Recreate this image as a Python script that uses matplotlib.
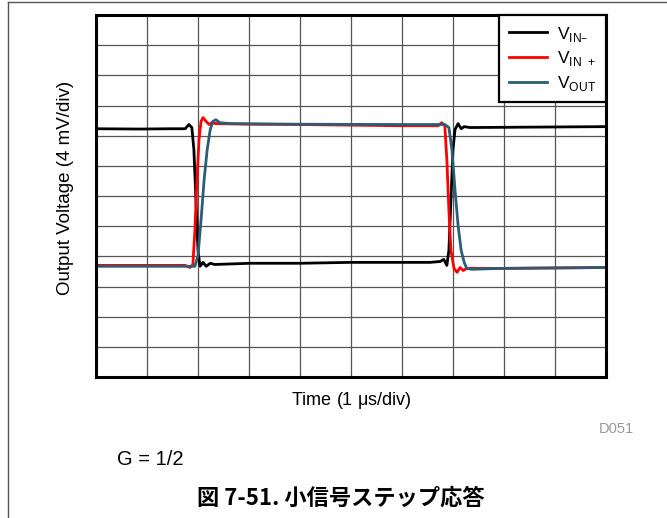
import matplotlib
matplotlib.use("Agg")
import matplotlib.pyplot as plt
from matplotlib.lines import Line2D

plt.rcParams['font.family'] = ['Liberation Sans', 'DejaVu Sans']

# time in us, level in divisions (4 mV/div)
t_vin_neg = [0.0, 0.86, 1.45, 1.75, 1.82, 1.88, 1.92, 1.96, 2.0, 2.04, 2.10, 2.16, 2.24, 2.33,
             3.02, 4.0, 4.98, 5.96, 6.55, 6.75, 6.82, 6.88, 6.92, 6.96, 7.0, 7.04, 7.10, 7.16,
             7.22, 7.33, 10.0]
v_vin_neg = [8.23, 8.22, 8.23, 8.23, 8.37, 8.27, 7.53, 5.87, 4.2, 3.67, 3.8, 3.67, 3.77, 3.73,
             3.77, 3.77, 3.8, 3.8, 3.8, 3.83, 3.9, 3.7, 4.2, 5.87, 7.53, 8.2, 8.4, 8.23,
             8.3, 8.27, 8.3]

t_vin_pos = [0.0, 1.06, 1.75, 1.84, 1.90, 1.94, 1.98, 2.02, 2.06, 2.10, 2.16, 2.22, 2.27, 2.35,
             3.02, 4.0, 4.98, 5.96, 6.71, 6.78, 6.84, 6.88, 6.92, 6.96, 7.02, 7.08, 7.14, 7.20,
             7.27, 7.92, 10.0]
v_vin_pos = [3.7, 3.7, 3.7, 3.63, 3.73, 4.87, 6.53, 7.87, 8.47, 8.6, 8.47, 8.37, 8.43, 8.4,
             8.38, 8.37, 8.35, 8.33, 8.33, 8.43, 8.33, 7.2, 5.53, 4.2, 3.6, 3.47, 3.63, 3.53,
             3.6, 3.6, 3.63]

t_vout = [0.0, 1.84, 1.94, 2.0, 2.06, 2.12, 2.18, 2.24, 2.29, 2.35, 2.43, 2.63, 4.0, 5.96,
          6.84, 6.92, 6.98, 7.04, 7.10, 7.16, 7.22, 7.27, 7.37, 7.92, 10.0]
v_vout = [3.67, 3.67, 3.67, 4.03, 5.2, 6.53, 7.53, 8.2, 8.47, 8.53, 8.43, 8.4, 8.38, 8.37,
          8.37, 8.27, 7.53, 6.2, 5.03, 4.2, 3.8, 3.6, 3.57, 3.6, 3.63]

labels = [r'V$_{\mathregular{IN–}}$', r'V$_{\mathregular{IN\ +}}$', r'V$_{\mathregular{OUT}}$']
colors = ['black', '#ff0000', '#2c5d76']

fig = plt.figure(figsize=(6.67, 5.18), dpi=100)
ax = fig.add_axes([0.1439, 0.2722, 0.7646, 0.6988])

ax.plot(t_vin_neg, v_vin_neg, color=colors[0], lw=2.0, label=labels[0])
ax.plot(t_vin_pos, v_vin_pos, color=colors[1], lw=2.0, label=labels[1])
ax.plot(t_vout, v_vout, color=colors[2], lw=2.0, label=labels[2])

ax.set_xlim(0, 10)
ax.set_ylim(0, 12)
ax.set_xticks(range(11))
ax.set_yticks(range(13))
ax.set_xticklabels([])
ax.set_yticklabels([])
ax.tick_params(length=0)
ax.grid(True, color='#555555', lw=0.9)
ax.set_axisbelow(True)
for s in ax.spines.values():
    s.set_linewidth(2.2)

ax.set_xlabel('Time (1 $\\mathregular{\\mu}$s/div)', fontsize=13, labelpad=6)
ax.set_ylabel('Output Voltage (4 mV/div)', fontsize=13.5)
ax.yaxis.set_label_coords(-0.043, 0.523)

leg = ax.legend(loc='upper right', fancybox=False, edgecolor='black', framealpha=1,
                borderaxespad=0, fontsize=12.5, handlelength=2.2, labelspacing=0.32,
                handletextpad=0.6, borderpad=0.55)
leg.get_frame().set_linewidth(1.6)

fig.text(0.95, 0.172, 'D051', color='#999999', fontsize=10.5, ha='right', va='center')
fig.text(0.175, 0.112, 'G = 1/2', fontsize=14.5, ha='left', va='center')
fig.text(0.511, 0.038, '図 7-51. 小信号ステップ応答', fontsize=16, fontweight='bold',
         ha='center', va='center', family=['Noto Sans CJK JP', 'DejaVu Sans'])

# page frame lines
fig.add_artist(Line2D([0.012, 0.012], [0, 0.996], color='#555555', lw=1))
fig.add_artist(Line2D([0.012, 1], [0.996, 0.996], color='#555555', lw=1))

fig.savefig('out.png', dpi=100)
